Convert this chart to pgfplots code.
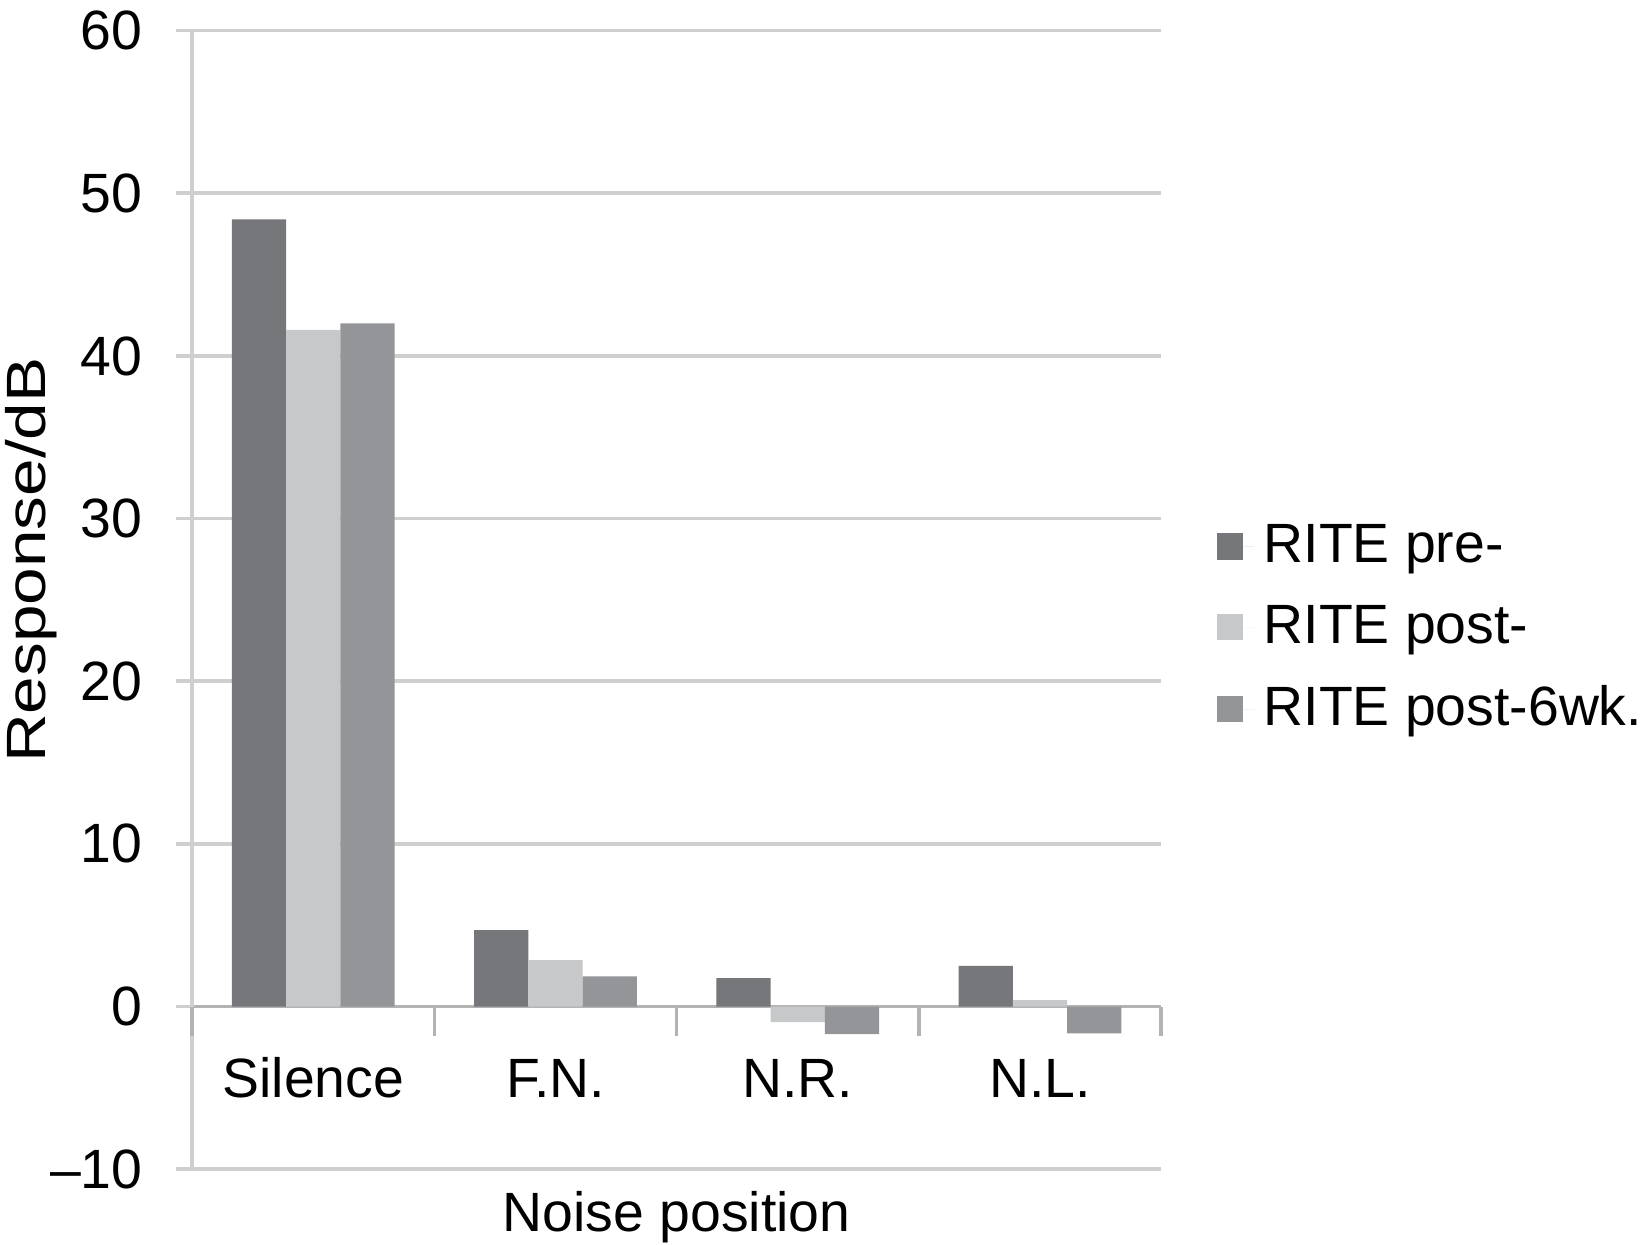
\documentclass[border=0pt]{standalone}
\usepackage{fontspec}
\setmainfont{Liberation Sans}
\usepackage{pgfplots}
\pgfplotsset{compat=1.18}

\definecolor{cpre}{HTML}{76777A}
\definecolor{cpost}{HTML}{C7C8CA}
\definecolor{csix}{HTML}{939598}
\definecolor{gridc}{HTML}{CFCFCF}
\definecolor{zeroc}{HTML}{B3B3B3}

\begin{document}
\begin{tikzpicture}[font=\fontsize{12.3}{14}\selectfont]
\begin{axis}[
    name=ax,
    scale only axis,
    width=215.3pt, height=253pt,
    ybar=0pt,
    bar width=0.224,
    xmin=-0.5, xmax=3.5,
    ymin=-10, ymax=60,
    axis y line=left,
    axis x line=middle,
    x axis line style={-, draw=zeroc, line width=0.8pt},
    y axis line style={-, draw=gridc, line width=0.8pt},
    hide obscured x ticks=false,
    hide obscured y ticks=false,
    xtick={0,1,2,3},
    xticklabels={Silence, F.N., N.R., N.L.},
    xtick style={draw=none},
    xticklabel style={anchor=base, yshift=-16.6pt},
    ytick={-10,0,10,20,30,40,50,60},
    yticklabels={--10,0,10,20,30,40,50,60},
    ytick style={draw=gridc, line width=0.8pt},
    tick align=outside,
    major tick length=3.5pt,
    yticklabel style={xshift=-4pt},
    ymajorgrids,
    grid style={draw=gridc, line width=0.8pt},
    clip=false,
    xlabel={Noise position},
    xlabel style={at={(axis description cs:0.5,-0.0545)}, anchor=base},
    ylabel={\scalebox{1.22}[1]{Response/dB}},
    ylabel style={at={(axis description cs:-0.166,0.535)}, anchor=center},
    legend style={at={(axis description cs:1,0.475)}, anchor=west, xshift=12.3pt,
        draw=none, fill=none, inner sep=0pt, row sep=4pt,
        cells={anchor=west}},
    legend image code/.code={\fill (0pt,-2.9pt) rectangle (5.8pt,2.9pt); \path (0pt,0pt) -- (8.3pt,0pt);},
]
\addplot[fill=cpre, draw=none] coordinates {(0,48.4) (1,4.7) (2,1.75) (3,2.5)};
\addplot[fill=cpost, draw=none] coordinates {(0,41.6) (1,2.85) (2,-0.95) (3,0.4)};
\addplot[fill=csix, draw=none] coordinates {(0,42.0) (1,1.85) (2,-1.7) (3,-1.65)};
\legend{RITE pre-, RITE post-, RITE post-6wk.}
\draw[zeroc, line width=0.8pt] (axis cs:-0.5,0) -- ++(0pt,-6.5pt);
\draw[zeroc, line width=0.8pt] (axis cs:0.5,0) -- ++(0pt,-6.5pt);
\draw[zeroc, line width=0.8pt] (axis cs:1.5,0) -- ++(0pt,-6.5pt);
\draw[zeroc, line width=0.8pt] (axis cs:2.5,0) -- ++(0pt,-6.5pt);
\draw[zeroc, line width=0.8pt] (axis cs:3.5,0) -- ++(0pt,-6.5pt);
\end{axis}
\pgfresetboundingbox
\path ([shift={(-42.7pt,-16.7pt)}]ax.south west) rectangle ([shift={(321.7pt,259.8pt)}]ax.south west);
\end{tikzpicture}
\end{document}
